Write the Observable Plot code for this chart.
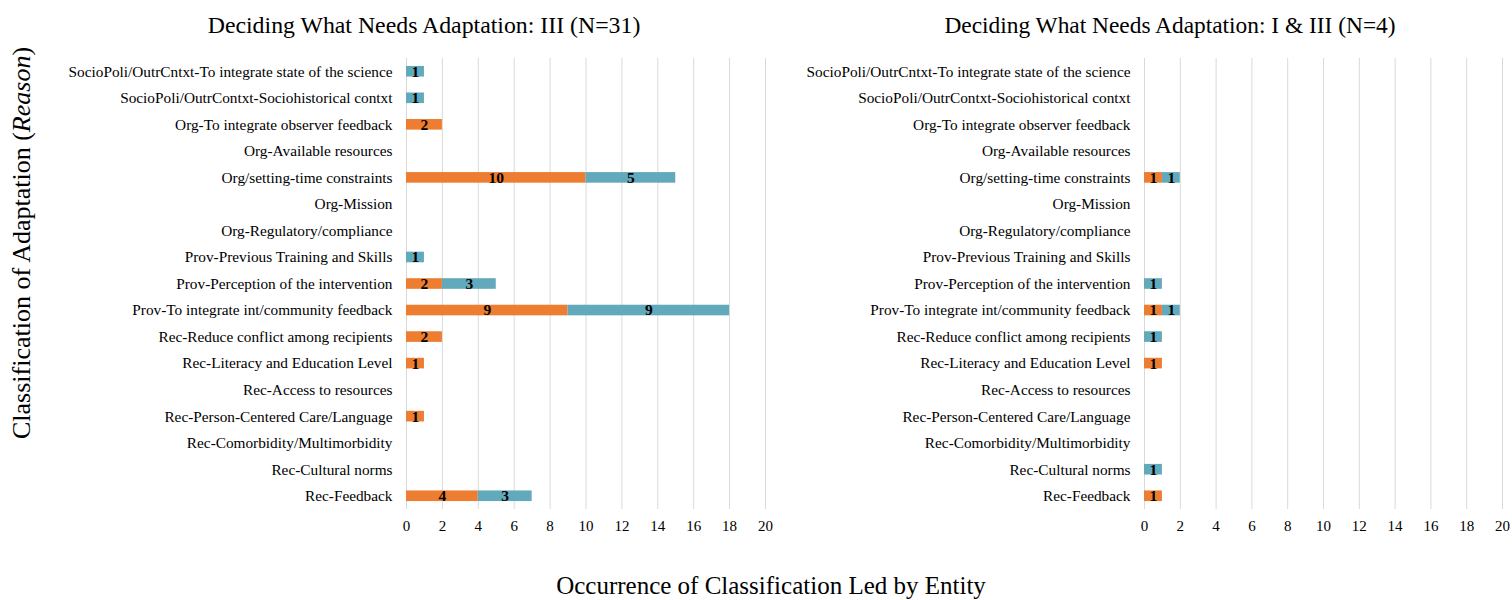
<!DOCTYPE html>
<html>
<head>
<meta charset="utf-8">
<script src="https://cdn.jsdelivr.net/npm/d3@7"></script>
<script src="https://cdn.jsdelivr.net/npm/@observablehq/plot@0.6"></script>
<style>
  html, body { margin: 0; padding: 0; background: #fff; }
  #chart { position: relative; width: 1512px; height: 600px; font-family: "Liberation Serif", "Times New Roman", serif; color: #000; overflow: hidden; }
  .title { position: absolute; top: 26px; font-size: 23.8px; line-height: 1; white-space: nowrap; transform: translate(-50%, -50%); }
  .ytitle { position: absolute; left: 22px; top: 243px; font-size: 26px; line-height: 1; white-space: nowrap; transform: translate(-50%, -50%) rotate(-90deg); }
  .xtitle { position: absolute; left: 771px; top: 585px; font-size: 25px; line-height: 1; white-space: nowrap; transform: translate(-50%, -50%); }
  .panel { position: absolute; top: 0; }
</style>
</head>
<body>
<div id="chart">
  <div class="title" style="left:424px">Deciding What Needs Adaptation: III (N=31)</div>
  <div class="title" style="left:1170px; font-size:23.4px">Deciding What Needs Adaptation: I &amp; III (N=4)</div>
  <div class="ytitle">Classification of Adaptation (<i>Reason</i>)</div>
  <div class="xtitle">Occurrence of Classification Led by Entity</div>
  <div class="panel" id="left" style="left:0px"></div>
  <div class="panel" id="right" style="left:780px"></div>
</div>
<script>
// Reasons for adaptation, listed top to bottom
const categories = [
  "SocioPoli/OutrCntxt-To integrate state of the science",
  "SocioPoli/OutrContxt-Sociohistorical contxt",
  "Org-To integrate observer feedback",
  "Org-Available resources",
  "Org/setting-time constraints",
  "Org-Mission",
  "Org-Regulatory/compliance",
  "Prov-Previous Training and Skills",
  "Prov-Perception of the intervention",
  "Prov-To integrate int/community feedback",
  "Rec-Reduce conflict among recipients",
  "Rec-Literacy and Education Level",
  "Rec-Access to resources",
  "Rec-Person-Centered Care/Language",
  "Rec-Comorbidity/Multimorbidity",
  "Rec-Cultural norms",
  "Rec-Feedback"
];

// Series (first = orange segment, second = teal segment)
const seriesNames = ["Entity A", "Entity B"];

// Panel III (N=31)
const phaseIII_A = [0, 0, 2, 0, 10, 0, 0, 0, 2, 9, 2, 1, 0, 1, 0, 0, 4];
const phaseIII_B = [1, 1, 0, 0, 5, 0, 0, 1, 3, 9, 0, 0, 0, 0, 0, 0, 3];

// Panel I & III (N=4)
const phaseI_III_A = [0, 0, 0, 0, 1, 0, 0, 0, 0, 1, 0, 1, 0, 0, 0, 0, 1];
const phaseI_III_B = [0, 0, 0, 0, 1, 0, 0, 0, 1, 1, 1, 0, 0, 0, 0, 1, 0];

const xTicks = [0, 2, 4, 6, 8, 10, 12, 14, 16, 18, 20];
const colors = ["#ED7D31", "#63A9BC"];

function rows(a, b) {
  return categories.flatMap((c, i) => [
    {cat: c, series: seriesNames[0], v: a[i]},
    {cat: c, series: seriesNames[1], v: b[i]}
  ]).filter(d => d.v > 0);
}

function panel(data, {width, marginLeft, marginRight}) {
  return Plot.plot({
    width,
    height: 545,
    marginLeft,
    marginRight,
    marginTop: 58,
    marginBottom: 36,
    style: {fontFamily: "'Liberation Serif', 'Times New Roman', serif", fontSize: "15px", color: "#000", background: "transparent", overflow: "visible"},
    x: {domain: [0, 20]},
    y: {domain: categories, paddingInner: 0.6, paddingOuter: 0.3, round: false},
    color: {domain: seriesNames, range: colors},
    marks: [
      Plot.gridX(xTicks, {stroke: "#d9d9d9", strokeOpacity: 1, strokeWidth: 1}),
      Plot.barX(data, Plot.stackX({y: "cat", x: "v", fill: "series"})),
      Plot.text(data, Plot.stackX({y: "cat", x: "v", z: "series", text: "v", fontWeight: "bold", fontSize: 15.5, fill: "#000"})),
      Plot.axisX(xTicks, {tickSize: 0, tickPadding: 11, label: null, fontSize: 15}),
      Plot.axisY({tickSize: 0, tickPadding: 14, label: null, fontSize: 15.3})
    ]
  });
}

document.getElementById("left").append(panel(rows(phaseIII_A, phaseIII_B), {width: 768, marginLeft: 406, marginRight: 3}));
document.getElementById("right").append(panel(rows(phaseI_III_A, phaseI_III_B), {width: 732, marginLeft: 364, marginRight: 10}));
</script>
</body>
</html>
